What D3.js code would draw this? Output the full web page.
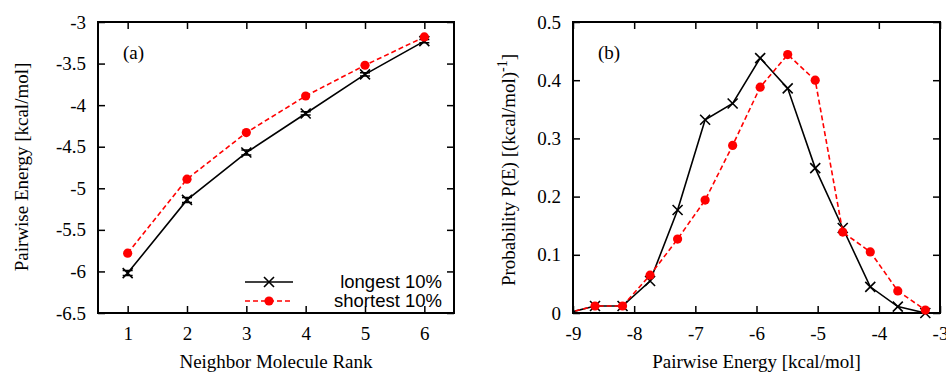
<!DOCTYPE html>
<html>
<head>
<meta charset="utf-8">
<script src="https://cdn.jsdelivr.net/npm/d3@7"></script>
<style>
  body { margin: 0; background: #fff; }
  svg { display: block; }
  .tick text { font-family: "Liberation Serif", "Times New Roman", serif; font-size: 19px; }
</style>
</head>
<body>
<div id="chart-area"></div>
<script>

// panel (a) data
var ranks = [1, 2, 3, 4, 5, 6];
var longestA = [-6.02, -5.14, -4.57, -4.10, -3.63, -3.23];
var longestErr = [0.03, 0.03, 0.03, 0.02, 0.02, 0.02];
var shortestA = [-5.78, -4.89, -4.33, -3.89, -3.52, -3.18];

// panel (b) data
var energyBins = [-9.09, -8.64, -8.19, -7.74, -7.29, -6.84, -6.39, -5.94, -5.49, -5.04, -4.59, -4.14, -3.69, -3.24];
var longestB = [0, 0.012, 0.012, 0.055, 0.177, 0.332, 0.360, 0.438, 0.386, 0.249, 0.146, 0.045, 0.011, 0.0];
var shortestB = [0, 0.012, 0.012, 0.065, 0.127, 0.194, 0.288, 0.388, 0.444, 0.400, 0.139, 0.105, 0.038, 0.005];

var ticksAY = [-6.5, -6, -5.5, -5, -4.5, -4, -3.5, -3];
var ticksBX = [-9, -8, -7, -6, -5, -4, -3];
var ticksBY = [0, 0.1, 0.2, 0.3, 0.4, 0.5];

var W = 946, H = 372;
var svg = d3.select("#chart-area").append("svg")
    .attr("width", W)
    .attr("height", H);
svg.append("rect").attr("width", W).attr("height", H).attr("fill", "#fff");

var plotTop = 22, plotBottom = 313;
var plainFmt = function (d) { return String(d); };   // keep ascii hyphen like gnuplot

function drawPanel(opt) {
    var x = d3.scaleLinear().domain(opt.xDomain).range([opt.left, opt.right]);
    var y = d3.scaleLinear().domain(opt.yDomain).range([plotBottom, plotTop]);
    var g = svg.append("g");

    g.append("clipPath").attr("id", opt.id)
        .append("rect")
        .attr("x", opt.left).attr("y", plotTop)
        .attr("width", opt.right - opt.left).attr("height", plotBottom - plotTop);

    // axes with inward ticks, mirrored on top/right
    var tl = 7;
    g.append("g").attr("transform", "translate(0," + plotBottom + ")")
        .call(d3.axisBottom(x).tickValues(opt.xTicks).tickSizeInner(-tl).tickSizeOuter(0).tickPadding(14).tickFormat(plainFmt))
        .call(function (s) { s.select(".domain").remove(); });
    g.append("g").attr("transform", "translate(0," + plotTop + ")")
        .call(d3.axisTop(x).tickValues(opt.xTicks).tickSizeInner(-tl).tickSizeOuter(0).tickFormat(""))
        .call(function (s) { s.select(".domain").remove(); });
    g.append("g").attr("transform", "translate(" + opt.left + ",0)")
        .call(d3.axisLeft(y).tickValues(opt.yTicks).tickSizeInner(-tl).tickSizeOuter(0).tickPadding(12).tickFormat(plainFmt))
        .call(function (s) { s.select(".domain").remove(); });
    g.append("g").attr("transform", "translate(" + opt.right + ",0)")
        .call(d3.axisRight(y).tickValues(opt.yTicks).tickSizeInner(-tl).tickSizeOuter(0).tickFormat(""))
        .call(function (s) { s.select(".domain").remove(); });
    g.selectAll(".tick line").attr("stroke", "#000").attr("stroke-width", 1.5);
    g.selectAll(".tick text").attr("fill", "#000");

    g.append("rect")
        .attr("x", opt.left).attr("y", plotTop)
        .attr("width", opt.right - opt.left).attr("height", plotBottom - plotTop)
        .attr("fill", "none").attr("stroke", "#000").attr("stroke-width", 2);

    var line = d3.line()
        .x(function (d) { return x(d[0]); })
        .y(function (d) { return y(d[1]); });

    opt.series.forEach(function (s) {
        var pts = s.xs.map(function (v, i) { return [v, s.ys[i]]; });
        g.append("path").datum(pts)
            .attr("clip-path", "url(#" + opt.id + ")")
            .attr("d", line)
            .attr("fill", "none")
            .attr("stroke", s.color)
            .attr("stroke-width", 1.6)
            .attr("stroke-dasharray", s.dashed ? "5,3" : null);

        var inside = pts.filter(function (d) {
            return d[0] >= opt.xDomain[0] && d[0] <= opt.xDomain[1];
        });
        if (s.err) {
            s.xs.forEach(function (v, i) {
                var cx = x(v), y0 = y(s.ys[i] - s.err[i]), y1 = y(s.ys[i] + s.err[i]);
                g.append("path")
                    .attr("d", "M" + cx + "," + y0 + "V" + y1 + "M" + (cx - 5) + "," + y0 + "h10M" + (cx - 5) + "," + y1 + "h10")
                    .attr("stroke", s.color).attr("stroke-width", 1.5).attr("fill", "none");
            });
        }
        if (s.marker === "x") {
            g.selectAll(null).data(inside).enter().append("path")
                .attr("d", function (d) {
                    var cx = x(d[0]), cy = y(d[1]), r = 5;
                    return "M" + (cx - r) + "," + (cy - r) + "L" + (cx + r) + "," + (cy + r) +
                        "M" + (cx - r) + "," + (cy + r) + "L" + (cx + r) + "," + (cy - r);
                })
                .attr("stroke", s.color).attr("stroke-width", 1.6).attr("fill", "none");
        } else {
            g.selectAll(null).data(inside).enter().append("circle")
                .attr("cx", function (d) { return x(d[0]); })
                .attr("cy", function (d) { return y(d[1]); })
                .attr("r", 4.6)
                .attr("fill", s.color);
        }
    });

    g.append("text")
        .attr("x", opt.left + 25).attr("y", 59)
        .attr("font-family", "Liberation Serif, serif").attr("font-size", 19)
        .text(opt.label);

    g.append("text")
        .attr("x", (opt.left + opt.right) / 2).attr("y", 368)
        .attr("text-anchor", "middle")
        .attr("font-family", "Liberation Serif, serif").attr("font-size", 19)
        .text(opt.xTitle);

    var yt = g.append("text")
        .attr("transform", "translate(" + opt.yTitleX + "," + opt.yTitleY + ") rotate(-90)")
        .attr("text-anchor", "middle")
        .attr("font-family", "Liberation Serif, serif").attr("font-size", 19);
    yt.append("tspan").text(opt.yTitle);
    if (opt.yTitleSup) {
        yt.append("tspan").attr("dy", -8).attr("font-size", 14).text(opt.yTitleSup);
        yt.append("tspan").attr("dy", 8).text("]");
    }
    return { x: x, y: y, g: g };
}

drawPanel({
    id: "clipA", left: 98, right: 454,
    xDomain: [0.5, 6.5], yDomain: [-6.5, -3],
    xTicks: ranks, yTicks: ticksAY,
    label: "(a)", xTitle: "Neighbor Molecule Rank",
    yTitle: "Pairwise Energy [kcal/mol]", yTitleX: 28, yTitleY: 167,
    series: [
        { xs: ranks, ys: longestA, err: longestErr, color: "#000", marker: "x", dashed: false },
        { xs: ranks, ys: shortestA, color: "#ff0000", marker: "o", dashed: true }
    ]
});

drawPanel({
    id: "clipB", left: 573, right: 940,
    xDomain: [-9, -3], yDomain: [0, 0.5],
    xTicks: ticksBX, yTicks: ticksBY,
    label: "(b)", xTitle: "Pairwise Energy [kcal/mol]",
    yTitle: "Probability P(E) [(kcal/mol)", yTitleSup: "-1", yTitleX: 515, yTitleY: 170,
    series: [
        { xs: energyBins, ys: longestB, color: "#000", marker: "x", dashed: false },
        { xs: energyBins, ys: shortestB, color: "#ff0000", marker: "o", dashed: true }
    ]
});

// legend in panel (a)
var legend = [
    { name: "longest 10%", color: "#000", marker: "x", dashed: false },
    { name: "shortest 10%", color: "#ff0000", marker: "o", dashed: true }
];
legend.forEach(function (d, i) {
    var ly = 282 + i * 19;
    var lg = svg.append("g");
    lg.append("line").attr("x1", 245).attr("x2", 293).attr("y1", ly).attr("y2", ly)
        .attr("stroke", d.color).attr("stroke-width", 1.6)
        .attr("stroke-dasharray", d.dashed ? "5,3" : null);
    if (d.marker === "x") {
        lg.append("path")
            .attr("d", "M264," + (ly - 5) + "L274," + (ly + 5) + "M264," + (ly + 5) + "L274," + (ly - 5))
            .attr("stroke", d.color).attr("stroke-width", 1.6);
    } else {
        lg.append("circle").attr("cx", 269).attr("cy", ly).attr("r", 4.6).attr("fill", d.color);
    }
    lg.append("text").attr("x", 442).attr("y", ly + 6)
        .attr("text-anchor", "end")
        .attr("font-family", "Liberation Sans, Arial, sans-serif").attr("font-size", 18.5)
        .text(d.name);
});

</script>
</body>
</html>
